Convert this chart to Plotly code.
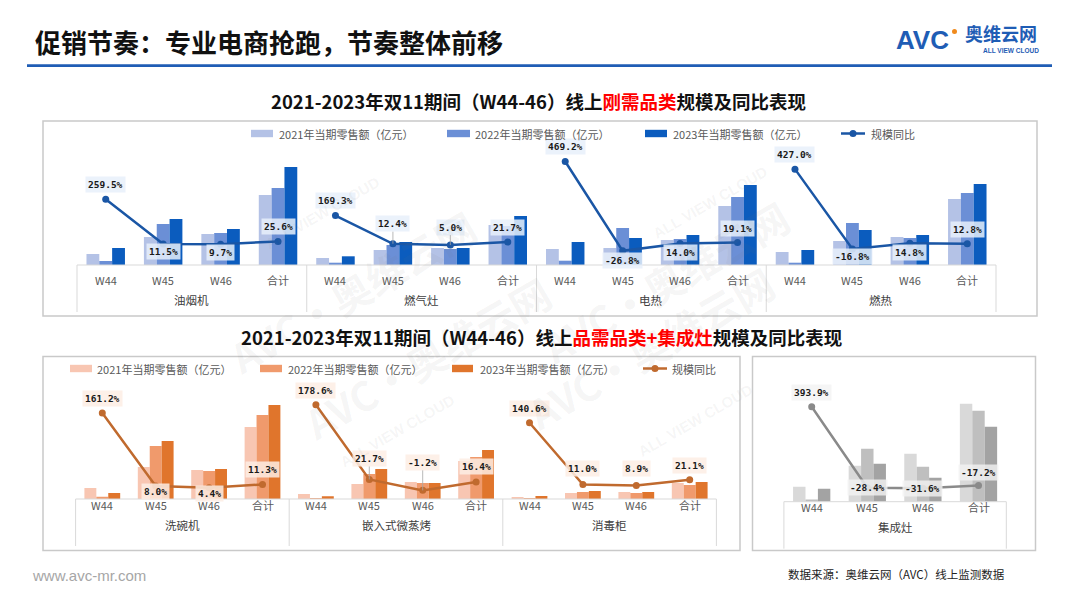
import plotly.graph_objects as go

W, H = 1080, 608


def px(x):
    return x / W


def py(y):
    return 1 - y / H


# ---------------- data ----------------
WEEKS = ["W44", "W45", "W46", "合计"]
SERIES_NAMES = ["2021年当期零售额（亿元）", "2022年当期零售额（亿元）", "2023年当期零售额（亿元）"]
LINE_NAME = "规模同比"

# top chart: 刚需品类 (relative retail sales)
TOP_GROUPS = ["油烟机", "燃气灶", "电热", "燃热"]
top_2021 = [11, 28, 31, 70, 7, 15, 17, 40, 16, 17, 25, 59, 13, 24, 28, 66]
top_2022 = [4, 41, 32, 77, 2.3, 20, 16, 39, 4.3, 37, 26, 68, 2.3, 42, 27, 72]
top_2023 = [17, 46, 36, 98, 8.7, 23, 17, 49, 23, 27, 30, 80, 15, 35, 30, 81]
top_yoy = [259.5, 11.5, 9.7, 25.6, 169.3, 12.4, 5.0, 21.7,
           469.2, -26.8, 14.0, 19.1, 427.0, -16.8, 14.8, 12.8]

# bottom-left chart: 品需品类
BOT_GROUPS = ["洗碗机", "嵌入式微蒸烤", "消毒柜"]
bot_2021 = [11, 32, 29, 72, 5, 15, 17, 38, 2, 6, 7, 16]
bot_2022 = [2.3, 53, 28, 84, 1, 25, 16, 42, 1, 7, 6, 14]
bot_2023 = [6, 58, 30, 94, 2.7, 30, 16, 49, 3, 8, 7, 17]
bot_yoy = [161.2, 8.0, 4.4, 11.3, 178.6, 21.7, -1.2, 16.4, 140.6, 11.0, 8.9, 21.1]

# bottom-right chart: 集成灶
JCZ_GROUPS = ["集成灶"]
jcz_2021 = [15, 36, 48, 98]
jcz_2022 = [2.3, 53, 35, 91]
jcz_2023 = [13, 38, 24, 75]
jcz_yoy = [393.9, -28.4, -31.6, -17.2]

# label placement (px offset of label centre from point; + = below)
top_lab_dy = [-15, 8, 8, -15, -15, -20, -18, -15, -15, 10, 9, -14, -15, 7, 9, -14]
top_leader = [5, 6]
bot_lab_dy = [-14, 6, 6, -15, -14, -21, -28, -15, -14, -16, -17, -14]
bot_leader = [5, 6]
jcz_lab_dy = [-14, 0, 0, -13]
jcz_leader = []

# ---------------- styles ----------------
BLUE = ["#b4c2e6", "#6b8fd6", "#0b5cbe"]
BLUE_LINE = "#1a56a5"
ORANGE = ["#f8c6b2", "#f09a6c", "#e0752c"]
ORANGE_LINE = "#c06a2e"
GRAY = ["#d9d9d9", "#bfbfbf", "#a3a3a3"]
GRAY_LINE = "#8a8a8a"
CJK = "Noto Sans CJK SC"
TXT = "#595959"
AXLINE = "#d9d9d9"

fig = go.Figure()
annotations = []
shapes = []


def add_panel(groups, s21, s22, s23, yoy, colors, line_color, lab_bg, dys, leaders,
              xa, ya, ya2, x_left, x_right, base_y, tick_y, grp_y):
    n = len(s21)
    xs = list(range(n))
    for vals, col, name in zip([s21, s22, s23], colors, SERIES_NAMES):
        fig.add_trace(go.Bar(x=xs, y=vals, name=name, marker_color=col,
                             marker_line_width=0, xaxis=xa, yaxis=ya, showlegend=False))
    lx, ly = [], []
    for g in range(len(groups)):
        for k in range(4):
            lx.append(g * 4 + k)
            ly.append(yoy[g * 4 + k])
        lx.append(None)
        ly.append(None)
    fig.add_trace(go.Scatter(x=lx, y=ly, mode="lines+markers", name=LINE_NAME,
                             line=dict(color=line_color, width=2.5),
                             marker=dict(size=7, color=line_color),
                             xaxis=xa, yaxis=ya2, showlegend=False, connectgaps=False))
    for i, v in enumerate(yoy):
        annotations.append(dict(
            x=i, y=v, xref=xa, yref=ya2, text="<b>%.1f%%</b>" % v,
            showarrow=True, arrowhead=0, arrowwidth=0.8,
            arrowcolor="#a6a6a6" if i in leaders else "rgba(0,0,0,0)",
            ax=0, ay=dys[i], bgcolor=lab_bg, borderpad=2,
            font=dict(family="DejaVu Sans Mono", size=9.5, color="#1a1a1a")))
    for i in range(n):
        annotations.append(dict(x=i, y=py(tick_y), xref=xa, yref="paper",
                                text=WEEKS[i % 4], showarrow=False,
                                font=dict(family=CJK, size=11, color=TXT)))
    for g, name in enumerate(groups):
        annotations.append(dict(x=g * 4 + 1.5, y=py(grp_y), xref=xa, yref="paper",
                                text=name, showarrow=False,
                                font=dict(family=CJK, size=11.5, color="#404040")))
    ng = len(groups)
    shapes.append(dict(type="line", xref="paper", yref="paper", x0=px(x_left), x1=px(x_right),
                       y0=py(base_y), y1=py(base_y), line=dict(color=AXLINE, width=1)))
    for g in range(ng + 1):
        xx = x_left + (x_right - x_left) * g / ng
        shapes.append(dict(type="line", xref="paper", yref="paper", x0=px(xx), x1=px(xx),
                           y0=py(base_y), y1=py(base_y + 47), line=dict(color=AXLINE, width=1)))


add_panel(TOP_GROUPS, top_2021, top_2022, top_2023, top_yoy, BLUE, BLUE_LINE,
          "rgba(232,240,250,0.85)", top_lab_dy, top_leader,
          "x", "y", "y2", 77, 996, 265, 280, 300)
add_panel(BOT_GROUPS, bot_2021, bot_2022, bot_2023, bot_yoy, ORANGE, ORANGE_LINE,
          "rgba(253,237,228,0.85)", bot_lab_dy, bot_leader,
          "x2", "y3", "y4", 75.6, 716.4, 499, 515, 535)
add_panel(JCZ_GROUPS, jcz_2021, jcz_2022, jcz_2023, jcz_yoy, GRAY, GRAY_LINE,
          "rgba(242,242,242,0.8)", jcz_lab_dy, jcz_leader,
          "x3", "y5", "y6", 783.9, 1006.3, 501.7, 517, 537)


# ---------------- manual legends ----------------
def legend(items_x, text_x, cy, colors, line_color, line_x0, text_line_x):
    for sx, tx, col, name in zip(items_x, text_x, colors, SERIES_NAMES):
        shapes.append(dict(type="rect", xref="paper", yref="paper",
                           x0=px(sx[0]), x1=px(sx[1]), y0=py(cy + 3.7), y1=py(cy - 3.7),
                           fillcolor=col, line=dict(width=0)))
        annotations.append(dict(x=px(tx), y=py(cy), xref="paper", yref="paper", text=name,
                                xanchor="left", yanchor="middle", showarrow=False,
                                font=dict(family=CJK, size=11, color=TXT)))
    shapes.append(dict(type="line", xref="paper", yref="paper", x0=px(line_x0), x1=px(line_x0 + 24),
                       y0=py(cy), y1=py(cy), line=dict(color=line_color, width=2.5)))
    shapes.append(dict(type="circle", xref="paper", yref="paper",
                       x0=px(line_x0 + 12 - 3.5), x1=px(line_x0 + 12 + 3.5),
                       y0=py(cy + 3.5), y1=py(cy - 3.5), fillcolor=line_color, line=dict(width=0)))
    annotations.append(dict(x=px(text_line_x), y=py(cy), xref="paper", yref="paper", text=LINE_NAME,
                            xanchor="left", yanchor="middle", showarrow=False,
                            font=dict(family=CJK, size=11, color=TXT)))


legend([(251, 273), (447, 470), (645, 667)], [277, 473, 671], 133.5, BLUE, BLUE_LINE, 841, 869)
legend([(70, 92), (260, 282), (452, 473)], [95, 286, 478], 368.5, ORANGE, ORANGE_LINE, 643, 670)

# ---------------- frames ----------------
FRAME = "#c9c9c9"
for x0, x1, y0, y1 in [(43, 1037, 121, 316), (43, 740, 356.5, 550.5), (752.5, 1035.5, 356.5, 550.5)]:
    shapes.append(dict(type="rect", xref="paper", yref="paper", x0=px(x0), x1=px(x1),
                       y0=py(y1), y1=py(y0), line=dict(color=FRAME, width=1.5), layer="below"))

# header line
shapes.append(dict(type="line", xref="paper", yref="paper", x0=px(27), x1=px(1052),
                   y0=py(65.7), y1=py(65.7), line=dict(color="#1f5db5", width=2.7)))
# logo dot
shapes.append(dict(type="circle", xref="paper", yref="paper", x0=px(952), x1=px(957),
                   y0=py(34), y1=py(29), fillcolor="#f08a1c", line=dict(width=0)))

# ---------------- watermarks ----------------
for cx, cy in [(215, 195), (665, 185), (290, 455), (650, 445)]:
    annotations.append(dict(x=px(cx), y=py(cy), xref="paper", yref="paper",
                            text="<b>AVC·奥维云网</b>", textangle=-30, showarrow=False,
                            font=dict(family=CJK, size=40, color="rgba(120,120,120,0.07)")))
    annotations.append(dict(x=px(cx + 45), y=py(cy + 18), xref="paper", yref="paper",
                            text="<b>ALL VIEW CLOUD</b>", textangle=-30, showarrow=False,
                            font=dict(family="Liberation Sans", size=15, color="rgba(120,120,120,0.07)")))

# ---------------- texts ----------------
annotations += [
    dict(x=px(33), y=py(42), xref="paper", yref="paper", xanchor="left", yanchor="middle",
         text="<b>促销节奏：专业电商抢跑，节奏整体前移</b>", showarrow=False,
         font=dict(family=CJK, size=26, color="#111111")),
    dict(x=px(894), y=py(40), xref="paper", yref="paper", xanchor="left", yanchor="middle",
         text="<b>AVC</b>", showarrow=False,
         font=dict(family="Liberation Sans", size=26, color="#1f5db5")),
    dict(x=px(963), y=py(33), xref="paper", yref="paper", xanchor="left", yanchor="middle",
         text="<b>奥维云网</b>", showarrow=False,
         font=dict(family=CJK, size=18, color="#1f5db5")),
    dict(x=px(981), y=py(50), xref="paper", yref="paper", xanchor="left", yanchor="middle",
         text="<b>ALL VIEW CLOUD</b>", showarrow=False,
         font=dict(family="Liberation Sans", size=6.5, color="#1f5db5")),
    dict(x=px(538), y=py(101), xref="paper", yref="paper", xanchor="center", yanchor="middle",
         text="<b>2021-2023年双11期间（W44-46）线上<span style='color:#ff0000'>刚需品类</span>规模及同比表现</b>",
         showarrow=False, font=dict(family=CJK, size=18.5, color="#111111")),
    dict(x=px(541), y=py(337), xref="paper", yref="paper", xanchor="center", yanchor="middle",
         text="<b>2021-2023年双11期间（W44-46）线上<span style='color:#ff0000'>品需品类+集成灶</span>规模及同比表现</b>",
         showarrow=False, font=dict(family=CJK, size=18.5, color="#111111")),
    dict(x=px(30), y=py(575), xref="paper", yref="paper", xanchor="left", yanchor="middle",
         text="www.avc-mr.com", showarrow=False,
         font=dict(family="Liberation Sans", size=15, color="#a6a6a6")),
    dict(x=px(1007), y=py(574), xref="paper", yref="paper", xanchor="right", yanchor="middle",
         text="数据来源：奥维云网（AVC）线上监测数据", showarrow=False,
         font=dict(family=CJK, size=11.5, color="#222222")),
]

ax_common = dict(visible=False, showgrid=False, zeroline=False, fixedrange=True)
fig.update_layout(
    width=W, height=H, autosize=False,
    margin=dict(l=0, r=0, t=0, b=0),
    paper_bgcolor="white", plot_bgcolor="rgba(0,0,0,0)",
    barmode="group", bargap=0.33, bargroupgap=0,
    showlegend=False,
    xaxis=dict(domain=[px(77), px(996)], range=[-0.5, 15.5], anchor="y", **ax_common),
    yaxis=dict(domain=[py(265), py(145)], range=[0, 120], anchor="x", **ax_common),
    yaxis2=dict(overlaying="y", range=[-105.6, 561.1], anchor="x", side="right", **ax_common),
    xaxis2=dict(domain=[px(75.6), px(716.4)], range=[-0.5, 11.5], anchor="y3", **ax_common),
    yaxis3=dict(domain=[py(499), py(379)], range=[0, 120], anchor="x2", **ax_common),
    yaxis4=dict(overlaying="y3", range=[-19.3, 232.5], anchor="x2", side="right", **ax_common),
    xaxis3=dict(domain=[px(783.9), px(1006.3)], range=[-0.5, 3.5], anchor="y5", **ax_common),
    yaxis5=dict(domain=[py(501.7), py(381.7)], range=[0, 120], anchor="x3", **ax_common),
    yaxis6=dict(overlaying="y5", range=[-101.4, 524.2], anchor="x3", side="right", **ax_common),
    annotations=annotations,
    shapes=shapes,
)

fig.write_html("out.html")
